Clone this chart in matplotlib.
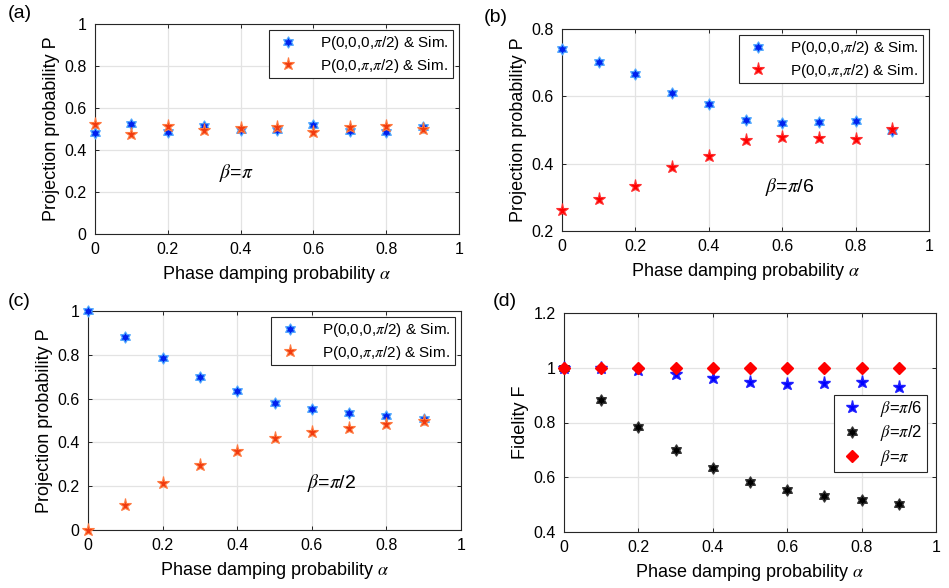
import numpy as np
import matplotlib.pyplot as plt
from matplotlib.path import Path

plt.rcParams['font.family'] = ['Liberation Sans', 'DejaVu Sans']
plt.rcParams['mathtext.fontset'] = 'stix'

alpha = np.array([0, 0.1, 0.2, 0.3, 0.4, 0.5, 0.6, 0.7, 0.8, 0.9])

# (a) beta = pi
a_p000 = [0.48, 0.525, 0.487, 0.512, 0.497, 0.493, 0.52, 0.49, 0.487, 0.51]
a_p00pi = [0.523, 0.475, 0.515, 0.493, 0.505, 0.509, 0.485, 0.51, 0.515, 0.50]
# (b) beta = pi/6
b_p000 = [0.74, 0.703, 0.665, 0.61, 0.578, 0.531, 0.52, 0.524, 0.527, 0.496]
b_p00pi = [0.262, 0.295, 0.335, 0.39, 0.424, 0.47, 0.48, 0.476, 0.473, 0.503]
# (c) beta = pi/2
c_p000 = [1.0, 0.883, 0.784, 0.70, 0.635, 0.578, 0.552, 0.532, 0.52, 0.509]
c_p00pi = [0.0, 0.114, 0.214, 0.298, 0.363, 0.421, 0.447, 0.467, 0.486, 0.497]
# (d) fidelity
f_pi6 = [1.0, 0.998, 0.99, 0.976, 0.964, 0.947, 0.941, 0.944, 0.947, 0.931]
f_pi2 = [1.0, 0.883, 0.785, 0.70, 0.635, 0.581, 0.553, 0.531, 0.516, 0.504]
f_pi = [1.0, 1.0, 1.0, 1.0, 1.0, 1.0, 1.0, 1.0, 1.0, 1.0]

lab1 = r'P(0,0,0,$\pi$/2) & Sim.'
lab2 = r'P(0,0,$\pi$,$\pi$/2) & Sim.'
hexa = Path.unit_regular_star(6, 0.577)  # star of David like MATLAB 'h'

W, H = 949, 588
fig = plt.figure(figsize=(W / 100, H / 100), dpi=100)


def box(l, t, r, b):
    return fig.add_axes([l / W, 1 - b / H, (r - l) / W, (b - t) / H])


def style(ax, ylim, yticks, ytl, ylabel):
    ax.set_xlim(0, 1)
    ax.set_ylim(*ylim)
    ax.set_xticks([0, 0.2, 0.4, 0.6, 0.8, 1])
    ax.set_xticklabels(['0', '0.2', '0.4', '0.6', '0.8', '1'])
    ax.set_yticks(yticks)
    ax.set_yticklabels(ytl)
    ax.grid(True, color='#e3e3e3', lw=0.9)
    ax.set_axisbelow(True)
    ax.tick_params(direction='in', top=True, right=True, labelsize=11.5,
                   length=3, width=0.6, pad=6)
    for s in ax.spines.values():
        s.set_linewidth(0.8)
        s.set_color('#262626')
    ax.set_xlabel(r'Phase damping probability $\alpha$', fontsize=13, labelpad=5)
    ax.set_ylabel(ylabel, fontsize=13, labelpad=3)


def probs(ax, y1, y2, red, redge):
    ax.plot(alpha, y1, ls='none', marker=hexa, ms=8, color='#0022ee',
            mec='#4fa8ff', mew=0.9, label=lab1, zorder=3, clip_on=False)
    ax.plot(alpha, y2, ls='none', marker='*', ms=9.5, color=red, mec=redge,
            mew=0.8, label=lab2, zorder=4, clip_on=False)
    leg = ax.legend(loc='upper right', fontsize=11,
                    fancybox=False, edgecolor='#262626', framealpha=1,
                    borderaxespad=0.4, handletextpad=1.1, borderpad=0.25,
                    labelspacing=0.3)
    leg.get_frame().set_linewidth(0.8)


# (a)
ax = box(95, 24, 459, 234)
probs(ax, a_p000, a_p00pi, '#f03a10', '#ff7a40')
style(ax, (0, 1), [0, 0.2, 0.4, 0.6, 0.8, 1], ['0', '0.2', '0.4', '0.6', '0.8', '1'],
      'Projection probability P')
ax.text(0.389, 0.29, r'$\beta$=$\pi$', fontsize=14, ha='center', va='center')
fig.text(8 / W, 1 - 14 / H, '(a)', fontsize=14, va='center')

# (b)
ax = box(562, 29, 929, 231)
probs(ax, b_p000, b_p00pi, '#ff0000', '#ff3030')
style(ax, (0.2, 0.8), [0.2, 0.4, 0.6, 0.8], ['0.2', '0.4', '0.6', '0.8'],
      'Projection probability P')
ax.text(0.62, 0.331, r'$\beta$=$\pi$/6', fontsize=14, ha='center', va='center')
fig.text(484 / W, 1 - 18 / H, '(b)', fontsize=14, va='center')

# (c)
ax = box(88, 311, 461, 530)
probs(ax, c_p000, c_p00pi, '#f03a10', '#ff7a40')
style(ax, (0, 1), [0, 0.2, 0.4, 0.6, 0.8, 1], ['0', '0.2', '0.4', '0.6', '0.8', '1'],
      'Projection probability P')
ax.text(0.653, 0.216, r'$\beta$=$\pi$/2', fontsize=14, ha='center', va='center')
fig.text(8 / W, 1 - 302 / H, '(c)', fontsize=14, va='center')

# (d)
ax = box(564, 313, 936, 532)
ax.plot(alpha, f_pi6, ls='none', marker='*', ms=9.5, color='#0000ff',
        mec='#2020ff', label=r'$\beta$=$\pi$/6', zorder=3, clip_on=False)
ax.plot(alpha, f_pi2, ls='none', marker=hexa, ms=8, color='#000000',
        mec='#333333', label=r'$\beta$=$\pi$/2', zorder=3, clip_on=False)
ax.plot(alpha, f_pi, ls='none', marker='D', ms=6.5, color='#ff0000',
        mec='#ff0000', label=r'$\beta$=$\pi$', zorder=4, clip_on=False)
style(ax, (0.4, 1.2), [0.4, 0.6, 0.8, 1, 1.2], ['0.4', '0.6', '0.8', '1', '1.2'],
      'Fidelity F')
leg = ax.legend(loc='center right', bbox_to_anchor=(0.997, 0.45), fontsize=12,
                fancybox=False, edgecolor='#262626', framealpha=1,
                handletextpad=0.9, borderpad=0.25, labelspacing=0.25,
                handlelength=1.6)
leg.get_frame().set_linewidth(0.8)
fig.text(493 / W, 1 - 302 / H, '(d)', fontsize=14, va='center')

fig.savefig('out.png', dpi=100)
